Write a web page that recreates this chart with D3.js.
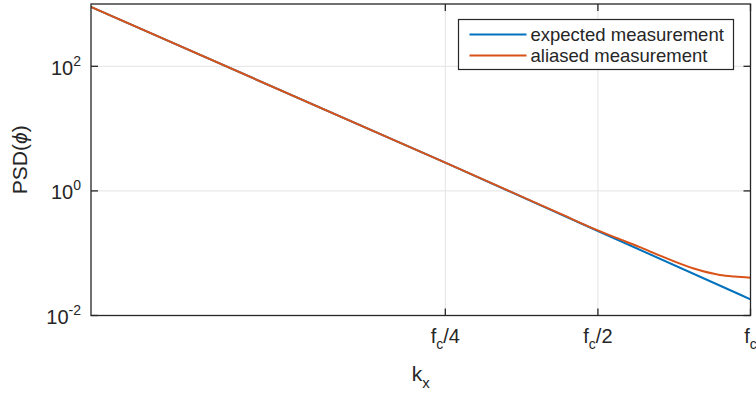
<!DOCTYPE html>
<html>
<head>
<meta charset="utf-8">
<script src="https://cdn.jsdelivr.net/npm/d3@7"></script>
<style>
  body { margin: 0; background: #fff; }
  svg { font-family: "Liberation Sans", Arial, Helvetica, sans-serif; }
</style>
</head>
<body>
<script>
// wavenumber in units of the cutoff f_c
var kExpected = [0.05, 0.25, 0.5, 1];
var expected  = [895, 2.85, 0.227, 0.0182];

var kAliased = [0.05, 0.25, 0.42, 0.5, 0.552, 0.605, 0.663, 0.77, 0.87, 0.93, 1];
var aliased  = [895, 2.85, 0.435, 0.232, 0.168, 0.125, 0.0914, 0.0573, 0.0448, 0.0422, 0.0405];

var xTicks = [0.25, 0.5, 1];
var xTickLabels = ["fc/4", "fc/2", "fc"];
var yTicks = [1e-2, 1, 1e2];
var yTickExp = ["-2", "0", "2"];

var seriesNames = ["expected measurement", "aliased measurement"];
var colors = ["#0072BD", "#D95319"];

var W = 756, H = 398;
var margin = {top: 4, right: 5.5, bottom: 82.5, left: 91},
    width = W - margin.left - margin.right,
    height = H - margin.top - margin.bottom;

var x = d3.scaleLog().domain([0.05, 1]).range([0, width]);
var y = d3.scaleLog().domain([1e-2, 1e3]).range([height, 0]);

var svg = d3.select("body").append("svg")
    .attr("width", W).attr("height", H);
var g = svg.append("g")
    .attr("transform", "translate(" + margin.left + "," + margin.top + ")");

g.append("clipPath").attr("id", "clip")
  .append("rect").attr("width", width).attr("height", height);

// grid
g.selectAll(".gx").data(xTicks).enter().append("line")
    .attr("x1", function (d) { return x(d); }).attr("x2", function (d) { return x(d); })
    .attr("y1", 0).attr("y2", height)
    .attr("stroke", "#e3e3e3").attr("stroke-width", 1);
g.selectAll(".gy").data(yTicks).enter().append("line")
    .attr("y1", function (d) { return y(d); }).attr("y2", function (d) { return y(d); })
    .attr("x1", 0).attr("x2", width)
    .attr("stroke", "#e3e3e3").attr("stroke-width", 1);

// curves
var line = function (ks) {
  return d3.line()
    .x(function (d, i) { return x(ks[i]); })
    .y(function (d) { return y(d); })
    .curve(d3.curveMonotoneX);
};
[[kExpected, expected], [kAliased, aliased]].forEach(function (s, i) {
  g.append("path")
    .attr("d", line(s[0])(s[1]))
    .attr("fill", "none")
    .attr("stroke", colors[i])
    .attr("stroke-width", 2)
    .attr("clip-path", "url(#clip)");
});

// box and ticks (inward, all four sides)
var axisColor = "#262626", tl = 7;
g.append("rect").attr("width", width).attr("height", height)
    .attr("fill", "none").attr("stroke", axisColor).attr("stroke-width", 1.3);
xTicks.forEach(function (d) {
  g.append("line").attr("x1", x(d)).attr("x2", x(d)).attr("y1", height).attr("y2", height - tl)
    .attr("stroke", axisColor).attr("stroke-width", 1.3);
  g.append("line").attr("x1", x(d)).attr("x2", x(d)).attr("y1", 0).attr("y2", tl)
    .attr("stroke", axisColor).attr("stroke-width", 1.3);
});
yTicks.forEach(function (d) {
  g.append("line").attr("y1", y(d)).attr("y2", y(d)).attr("x1", 0).attr("x2", tl)
    .attr("stroke", axisColor).attr("stroke-width", 1.3);
  g.append("line").attr("y1", y(d)).attr("y2", y(d)).attr("x1", width).attr("x2", width - tl)
    .attr("stroke", axisColor).attr("stroke-width", 1.3);
});

// x tick labels: f_c/n
xTicks.forEach(function (d, i) {
  var lab = xTickLabels[i];
  var t = g.append("text")
      .attr("x", x(d)).attr("y", height + 27)
      .attr("text-anchor", "middle")
      .attr("font-size", 20).attr("fill", axisColor);
  t.append("tspan").text(lab.charAt(0));
  t.append("tspan").attr("dy", 6).attr("font-size", 14).text(lab.charAt(1));
  if (lab.length > 2) t.append("tspan").attr("dy", -6).text(lab.slice(2));
});

// y tick labels: 10^n
yTicks.forEach(function (d, i) {
  var t = g.append("text")
      .attr("x", -10).attr("y", y(d) + 8.5)
      .attr("text-anchor", "end")
      .attr("font-size", 20).attr("fill", axisColor);
  t.append("tspan").text("10");
  t.append("tspan").attr("dy", -9).attr("font-size", 14).text(yTickExp[i]);
});

// axis labels
var xl = g.append("text")
    .attr("x", width / 2).attr("y", height + 65)
    .attr("text-anchor", "middle").attr("font-size", 21).attr("fill", axisColor);
xl.append("tspan").text("k");
xl.append("tspan").attr("dy", 7).attr("font-size", 15).text("x");

var yl = svg.append("text")
    .attr("transform", "translate(27," + (margin.top + height / 2) + ") rotate(-90)")
    .attr("text-anchor", "middle").attr("font-size", 21).attr("fill", axisColor);
yl.append("tspan").text("PSD(");
yl.append("tspan").attr("font-style", "italic").text("\u03D5");
yl.append("tspan").text(")");

// legend
var lg = svg.append("g").attr("transform", "translate(458.5,19.5)");
lg.append("rect").attr("width", 275).attr("height", 50)
    .attr("fill", "#fff").attr("stroke", axisColor).attr("stroke-width", 1.2);
seriesNames.forEach(function (name, i) {
  var yy = 15 + i * 21;
  lg.append("line").attr("x1", 11).attr("x2", 68).attr("y1", yy).attr("y2", yy)
    .attr("stroke", colors[i]).attr("stroke-width", 2);
  lg.append("text").attr("x", 72).attr("y", yy + 6.5)
    .attr("font-size", 18.5).attr("fill", axisColor).text(name);
});
</script>
</body>
</html>
